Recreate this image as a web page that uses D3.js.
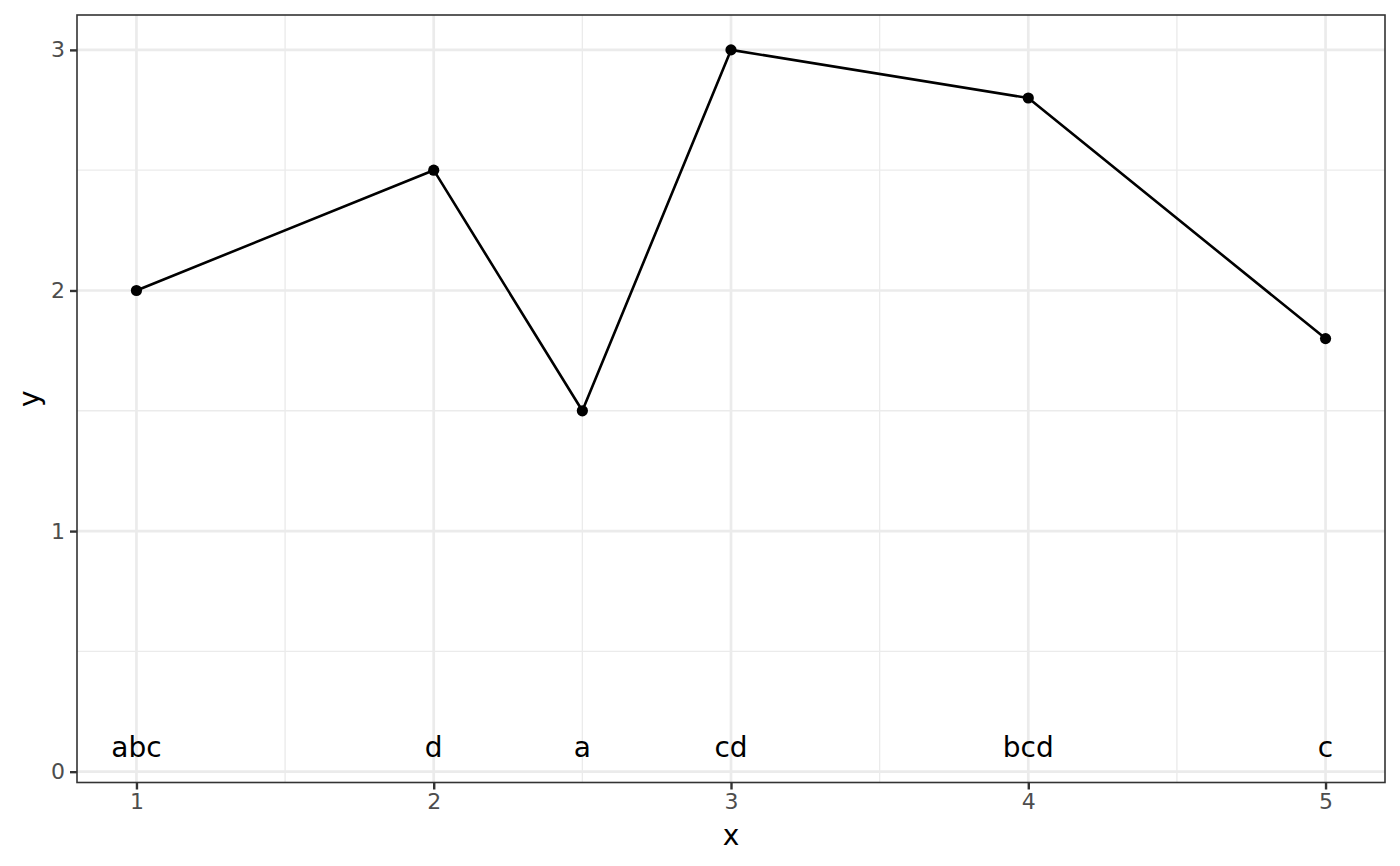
<!DOCTYPE html>
<html>
<head>
<meta charset="utf-8">
<script src="https://cdn.jsdelivr.net/npm/d3@7"></script>
<style>
  body { margin: 0; background: #fff; }
  svg text { font-family: 'DejaVu Sans', sans-serif; }
</style>
</head>
<body>
<svg id="chart" width="1400" height="866"></svg>
<script>
// data
var xs = [1, 2, 2.5, 3, 4, 5]
var ys = [2, 2.5, 1.5, 3, 2.8, 1.8]
var labels = ['abc', 'd', 'a', 'cd', 'bcd', 'c']
var labelY = 0.1

var xTicks = [1, 2, 3, 4, 5]
var yTicks = [0, 1, 2, 3]
var xMinor = [1.5, 2.5, 3.5, 4.5]
var yMinor = [0.5, 1.5, 2.5]

var conf = {
  left: 77,
  right: 1385,
  top: 15,
  bottom: 782.5
}

var svg = d3.select('#chart')

// ggplot style expansion: 5% each side
var x = d3.scaleLinear()
  .domain([0.8, 5.2])
  .range([conf.left, conf.right])

var y = d3.scaleLinear()
  .domain([-0.045, 3.145])
  .range([conf.bottom, conf.top])

// Panel background
svg.append('rect')
  .attr('x', conf.left)
  .attr('y', conf.top)
  .attr('width', conf.right - conf.left)
  .attr('height', conf.bottom - conf.top)
  .attr('fill', '#fff')

// Minor grid
svg.selectAll('line.xminor')
  .data(xMinor)
  .enter().append('line')
  .attr('class', 'xminor')
  .attr('x1', function (d) { return x(d) })
  .attr('x2', function (d) { return x(d) })
  .attr('y1', conf.top)
  .attr('y2', conf.bottom)
  .attr('stroke', '#EBEBEB')
  .attr('stroke-width', 1.35)

svg.selectAll('line.yminor')
  .data(yMinor)
  .enter().append('line')
  .attr('class', 'yminor')
  .attr('y1', function (d) { return y(d) })
  .attr('y2', function (d) { return y(d) })
  .attr('x1', conf.left)
  .attr('x2', conf.right)
  .attr('stroke', '#EBEBEB')
  .attr('stroke-width', 1.35)

// Major grid
svg.selectAll('line.xmajor')
  .data(xTicks)
  .enter().append('line')
  .attr('class', 'xmajor')
  .attr('x1', function (d) { return x(d) })
  .attr('x2', function (d) { return x(d) })
  .attr('y1', conf.top)
  .attr('y2', conf.bottom)
  .attr('stroke', '#EBEBEB')
  .attr('stroke-width', 2.7)

svg.selectAll('line.ymajor')
  .data(yTicks)
  .enter().append('line')
  .attr('class', 'ymajor')
  .attr('y1', function (d) { return y(d) })
  .attr('y2', function (d) { return y(d) })
  .attr('x1', conf.left)
  .attr('x2', conf.right)
  .attr('stroke', '#EBEBEB')
  .attr('stroke-width', 2.7)

// Line + points
var line = d3.line()
  .x(function (d) { return x(d[0]) })
  .y(function (d) { return y(d[1]) })

var pts = xs.map(function (d, i) { return [d, ys[i]] })

svg.append('path')
  .datum(pts)
  .attr('d', line)
  .attr('fill', 'none')
  .attr('stroke', '#000')
  .attr('stroke-width', 2.6)
  .attr('stroke-linejoin', 'round')

svg.selectAll('circle.pt')
  .data(pts)
  .enter().append('circle')
  .attr('class', 'pt')
  .attr('cx', function (d) { return x(d[0]) })
  .attr('cy', function (d) { return y(d[1]) })
  .attr('r', 5.6)
  .attr('fill', '#000')

// Text labels
svg.selectAll('text.lab')
  .data(labels)
  .enter().append('text')
  .attr('class', 'lab')
  .attr('x', function (d, i) { return x(xs[i]) })
  .attr('y', y(labelY))
  .attr('dy', '0.35em')
  .attr('text-anchor', 'middle')
  .attr('font-size', 28)
  .attr('fill', '#000')
  .text(function (d) { return d })

// Panel border
svg.append('rect')
  .attr('x', conf.left)
  .attr('y', conf.top)
  .attr('width', conf.right - conf.left)
  .attr('height', conf.bottom - conf.top)
  .attr('fill', 'none')
  .attr('stroke', '#333333')
  .attr('stroke-width', 1.6)

// Axes
var xAxis = d3.axisBottom(x)
  .tickValues(xTicks)
  .tickSize(7)
  .tickPadding(4)
  .tickFormat(d3.format('d'))

var yAxis = d3.axisLeft(y)
  .tickValues(yTicks)
  .tickSize(7)
  .tickPadding(5)
  .tickFormat(d3.format('d'))

var gx = svg.append('g')
  .attr('transform', 'translate(0,' + conf.bottom + ')')
  .call(xAxis)

var gy = svg.append('g')
  .attr('transform', 'translate(' + conf.left + ',0)')
  .call(yAxis)

;[gx, gy].forEach(function (g) {
  g.select('.domain').remove()
  g.selectAll('.tick line')
    .attr('stroke', '#333333')
    .attr('stroke-width', 2.4)
  g.selectAll('.tick text')
    .attr('fill', '#4D4D4D')
    .attr('font-size', 22)
    .attr('font-family', "'DejaVu Sans', sans-serif")
})

// Axis titles
svg.append('text')
  .attr('x', (conf.left + conf.right) / 2)
  .attr('y', 845)
  .attr('text-anchor', 'middle')
  .attr('font-size', 28)
  .attr('fill', '#000')
  .text('x')

svg.append('text')
  .attr('transform', 'translate(39,' + (conf.top + conf.bottom) / 2 + ') rotate(-90)')
  .attr('text-anchor', 'middle')
  .attr('font-size', 28)
  .attr('fill', '#000')
  .text('y')
</script>
</body>
</html>
